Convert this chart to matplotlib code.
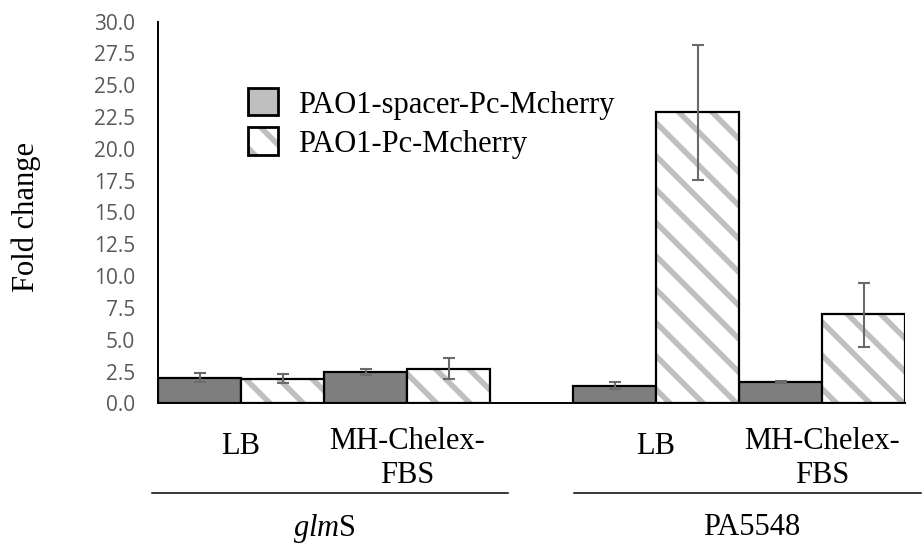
import matplotlib
matplotlib.use("Agg")
import matplotlib.pyplot as plt
import numpy as np
from matplotlib.transforms import blended_transform_factory
from matplotlib.patches import Rectangle

# Data
groups = ["glmS", "PA5548"]
conditions = ["LB", "MH-Chelex-\nFBS", "LB", "MH-Chelex-\nFBS"]
series_names = ["PAO1-spacer-Pc-Mcherry", "PAO1-Pc-Mcherry"]
spacer_vals = [2.00, 2.46, 1.38, 1.70]
spacer_lo = [1.65, 2.23, 1.15, 1.62]
spacer_hi = [2.38, 2.70, 1.65, 1.75]
pc_vals = [1.91, 2.73, 22.88, 7.00]
pc_lo = [1.63, 1.89, 17.56, 4.45]
pc_hi = [2.28, 3.57, 28.17, 9.43]
yticks = np.arange(0, 30.01, 2.5)

W, H = 922, 550
plt.rcParams['hatch.linewidth'] = 4.0
plt.rcParams['mathtext.fontset'] = 'custom'
plt.rcParams['mathtext.rm'] = 'Liberation Serif'
plt.rcParams['mathtext.it'] = 'Liberation Serif:italic'
SERIF = 'Liberation Serif'
FS = 22

fig = plt.figure(figsize=(W/100, H/100), dpi=100)
ax = fig.add_axes([158/W, 1-403.3/H, (905-158)/W, (403.3-21.7)/H])

centers = np.array([1, 3, 6, 8], dtype=float)
w = 1.0
err_sp = [np.array(spacer_vals) - np.array(spacer_lo), np.array(spacer_hi) - np.array(spacer_vals)]
err_pc = [np.array(pc_vals) - np.array(pc_lo), np.array(pc_hi) - np.array(pc_vals)]

ax.bar(centers - w/2, spacer_vals, width=w, color='#7f7f7f', edgecolor='black', linewidth=1.6, zorder=2)
# hatched series: gray hatch on white, then black outline
ax.bar(centers + w/2, pc_vals, width=w, color='white', edgecolor='#bfbfbf', linewidth=0,
       hatch='\\', zorder=2)
ax.bar(centers + w/2, pc_vals, width=w, fill=False, edgecolor='black', linewidth=1.6, zorder=2.5)
ax.errorbar(centers - w/2, spacer_vals, yerr=err_sp, fmt='none', ecolor='#6a6a6a', elinewidth=1.5,
            capsize=4.3, capthick=1.5, zorder=3)
ax.errorbar(centers + w/2, pc_vals, yerr=err_pc, fmt='none', ecolor='#6a6a6a', elinewidth=1.5,
            capsize=4.3, capthick=1.5, zorder=3)

ax.set_xlim(0, 9)
ax.set_ylim(0, 30)
ax.set_yticks(yticks)
ax.set_yticklabels([f"{v:.1f}" for v in yticks], fontfamily='Open Sans', fontsize=15, color='#595959')
ax.tick_params(axis='y', length=0, pad=16.5)
ax.set_xticks([])
for s in ['top', 'right']:
    ax.spines[s].set_visible(False)
ax.spines['left'].set_linewidth(1.4)
ax.spines['bottom'].set_linewidth(1.4)

fig.text(26/W, 1-217/H, "Fold change", rotation=90, ha='center', va='center',
         fontfamily=SERIF, fontsize=FS)

# Legend (manual)
ftr = fig.transFigure
leg_rows = [(88, 115), (127, 155)]
for (y0, y1), name, i in zip(leg_rows, series_names, range(2)):
    x0, x1 = 248, 278
    if i == 0:
        fig.add_artist(Rectangle((x0/W, 1-y1/H), (x1-x0)/W, (y1-y0)/H, transform=ftr,
                                 facecolor='#bfbfbf', edgecolor='black', linewidth=2.0))
    else:
        fig.add_artist(Rectangle((x0/W, 1-y1/H), (x1-x0)/W, (y1-y0)/H, transform=ftr,
                                 facecolor='white', edgecolor='#bfbfbf', linewidth=0, hatch='\\'))
        fig.add_artist(Rectangle((x0/W, 1-y1/H), (x1-x0)/W, (y1-y0)/H, transform=ftr,
                                 fill=False, edgecolor='black', linewidth=2.0))
    fig.text(298/W, 1-((y0+y1)/2)/H, name, ha='left', va='center_baseline',
             fontfamily=SERIF, fontsize=FS)

# Category labels
tr = blended_transform_factory(ax.transData, fig.transFigure)
for c, lab in zip(centers, conditions):
    lines = lab.split("\n")
    if len(lines) == 1:
        ax.text(c, 1-443/H, lines[0], transform=tr, ha='center', va='center_baseline',
                fontfamily=SERIF, fontsize=FS)
    else:
        for ln, yy in zip(lines, [438, 472]):
            ax.text(c, 1-yy/H, ln, transform=tr, ha='center', va='center_baseline',
                    fontfamily=SERIF, fontsize=FS)

# Group lines and labels
fig.add_artist(plt.Line2D([152/W, 508/W], [1-493/H]*2, color='black', linewidth=1.1, transform=ftr))
fig.add_artist(plt.Line2D([574/W, 921/W], [1-493/H]*2, color='black', linewidth=1.1, transform=ftr))
grp_centers = [(centers[0] + centers[1]) / 2, (centers[2] + centers[3]) / 2]
ax.text(grp_centers[0], 1-524/H, r"$\mathit{glm}$S", transform=tr, ha='center', va='center_baseline',
        fontfamily=SERIF, fontsize=FS)
ax.text(grp_centers[1] + 0.15, 1-524/H, groups[1], transform=tr, ha='center', va='center_baseline',
        fontfamily=SERIF, fontsize=FS)

fig.savefig("out.png", dpi=100)
